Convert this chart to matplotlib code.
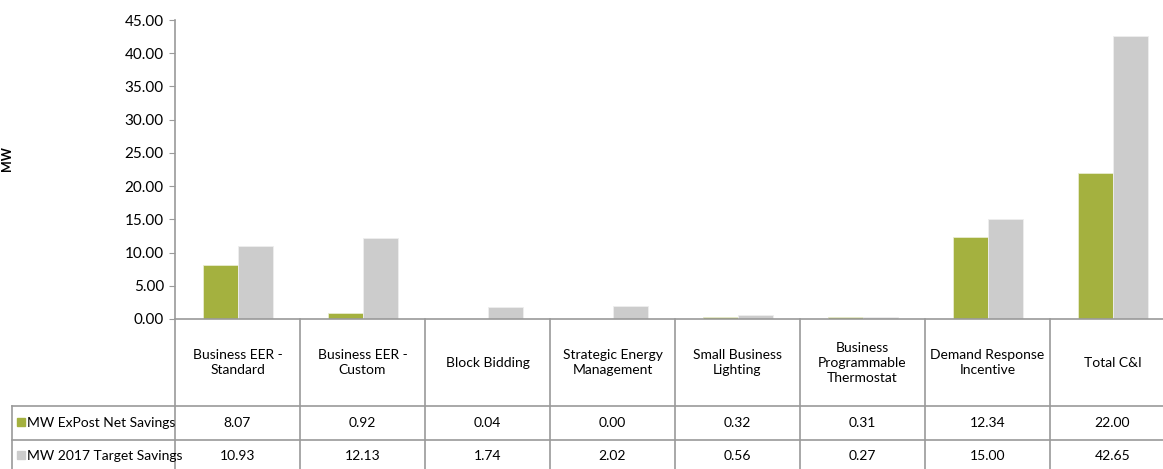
import matplotlib.pyplot as plt
import matplotlib.transforms as mtransforms
import numpy as np

plt.rcParams['font.family'] = ['Lato', 'DejaVu Sans']

categories = ['Business EER -\nStandard', 'Business EER -\nCustom', 'Block Bidding',
              'Strategic Energy\nManagement', 'Small Business\nLighting',
              'Business\nProgrammable\nThermostat', 'Demand Response\nIncentive', 'Total C&I']
expost_net = [8.07, 0.92, 0.04, 0.00, 0.32, 0.31, 12.34, 22.00]
target_2017 = [10.93, 12.13, 1.74, 2.02, 0.56, 0.27, 15.00, 42.65]
series_names = ['MW ExPost Net Savings', 'MW 2017 Target Savings']
yticks = np.arange(0, 50, 5)

green = '#a4b13f'
grey = '#cccccc'
line_c = '#9a9a9a'

W, H = 1163, 469
fig = plt.figure(figsize=(W / 100, H / 100), dpi=100)
ax = fig.add_axes([175 / W, (H - 319) / H, 1000 / W, 299 / H])

x = np.arange(len(categories))
bw = 0.28
ax.bar(x - bw / 2, expost_net, bw, color=green, edgecolor='#e8ecd0', linewidth=0.6)
ax.bar(x + bw / 2, target_2017, bw, color=grey, edgecolor='#eeeeee', linewidth=0.6)

ax.set_xlim(-0.5, len(categories) - 0.5)
ax.set_ylim(0, 45)
ax.set_yticks(yticks)
ax.set_yticklabels([f'{v:.2f}' for v in yticks], fontsize=11)
ax.set_xticks([])
ax.tick_params(axis='y', length=4, color=line_c, pad=4)
for s in ['top', 'right']:
    ax.spines[s].set_visible(False)
for s in ['left', 'bottom']:
    ax.spines[s].set_color(line_c)
    ax.spines[s].set_linewidth(1.2)
ax.set_ylabel('MW', fontsize=9, fontweight='bold')
ax.yaxis.set_label_coords(-0.1625, 0.538)

# data table under the bars
trans = mtransforms.blended_transform_factory(ax.transData, ax.transAxes)
head_b, row1_b, row2_b = -0.291, -0.405, -0.52
lab_l = -0.163

for b in np.arange(len(categories) + 1) - 0.5:
    ax.plot([b, b], [0, row2_b], transform=trans, color=line_c, lw=1.2, clip_on=False)
for yy in [head_b, row1_b]:
    ax.plot([lab_l, 1.0], [yy, yy], transform=ax.transAxes, color=line_c, lw=1.2, clip_on=False)
ax.plot([lab_l, lab_l], [head_b, row2_b], transform=ax.transAxes, color=line_c, lw=1.2, clip_on=False)

for i, c in enumerate(categories):
    ax.text(i, head_b / 2, c, transform=trans, ha='center', va='center',
            fontsize=10, linespacing=1.3)
    ax.text(i, (head_b + row1_b) / 2, f'{expost_net[i]:.2f}', transform=trans,
            ha='center', va='center', fontsize=10)
    ax.text(i, (row1_b + row2_b) / 2 + 0.003, f'{target_2017[i]:.2f}', transform=trans,
            ha='center', va='center', fontsize=10)

for (name, col, yc) in [(series_names[0], green, (head_b + row1_b) / 2),
                        (series_names[1], grey, (row1_b + row2_b) / 2 + 0.003)]:
    ax.plot([lab_l + 0.009], [yc + 0.004], transform=ax.transAxes, marker='s', ms=6,
            color=col, clip_on=False, linestyle='none')
    ax.text(lab_l + 0.015, yc, name, transform=ax.transAxes, ha='left', va='center',
            fontsize=10)

fig.savefig('out.png', dpi=100)
